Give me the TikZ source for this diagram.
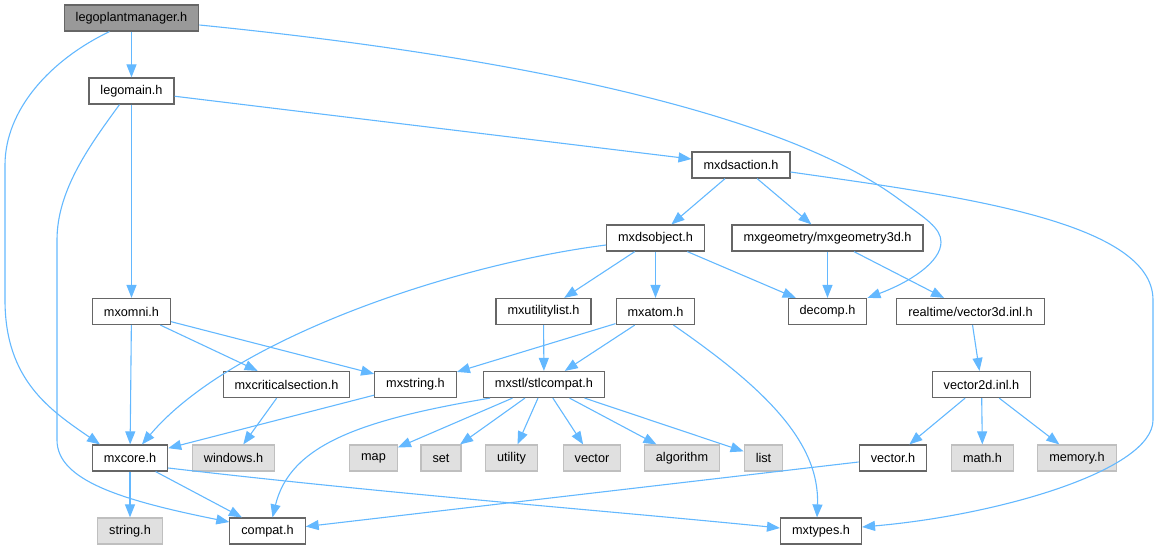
\documentclass[tikz,border=0pt]{standalone}
\usepackage{fontspec}
\setmainfont{Liberation Sans}
\usepackage{tikz}
\usetikzlibrary{arrows.meta}

\definecolor{edgeblue}{HTML}{63B8FF}
\definecolor{boxline}{HTML}{666666}
\definecolor{rootfill}{HTML}{999999}
\definecolor{sysfill}{HTML}{E0E0E0}
\definecolor{sysline}{HTML}{BFBFBF}
\newcommand{\hdrfont}{\fontsize{12.7}{15}\selectfont}

\begin{document}
\begin{tikzpicture}[x=1pt,y=-1pt,
    hdr/.style={draw=boxline,fill=white,line width=1.2pt,minimum height=26pt,
        inner xsep=11.5pt,inner ysep=0pt,font=\hdrfont},
    rooth/.style={hdr,fill=rootfill},
    sysh/.style={hdr,draw=sysline,fill=sysfill},
    edge/.style={draw=edgeblue,line width=1.1pt,-{Triangle[length=13pt,width=10pt]}}]
    \useasboundingbox (0,0) rectangle (1161,549);

    % rows of headers
    \node[rooth] (lpm) at (131.5,18) {legoplantmanager.h};
    \node[hdr] (legomain) at (131.5,91) {legomain.h};
    \node[hdr] (mxdsaction) at (741,165) {mxdsaction.h};
    \node[hdr] (mxdsobject) at (655.5,238) {mxdsobject.h};
    \node[hdr] (mxgeometry3d) at (827.5,238) {mxgeometry/mxgeometry3d.h};
    \node[hdr] (mxomni) at (131.5,311.5) {mxomni.h};
    \node[hdr] (mxutilitylist) at (543.5,311.5) {mxutilitylist.h};
    \node[hdr] (mxatom) at (655.5,311.5) {mxatom.h};
    \node[hdr] (decomp) at (827.5,311.5) {decomp.h};
    \node[hdr] (vector3d) at (970.5,311.5) {realtime/vector3d.inl.h};
    \node[hdr] (mxcriticalsection) at (286.5,384.5) {mxcriticalsection.h};
    \node[hdr] (mxstring) at (415.5,384.5) {mxstring.h};
    \node[hdr] (stlcompat) at (544,384.5) {mxstl/stlcompat.h};
    \node[hdr] (vector2d) at (981.5,384.5) {vector2d.inl.h};
    \node[hdr] (mxcore) at (130,458) {mxcore.h};
    \node[sysh] (windows) at (233.5,458) {windows.h};
    \node[sysh] (map) at (373.5,458) {map};
    \node[sysh] (set) at (441,458) {set};
    \node[sysh] (utility) at (511.5,458) {utility};
    \node[sysh] (vector) at (592,458) {vector};
    \node[sysh] (algorithm) at (682,458) {algorithm};
    \node[sysh] (list) at (763.5,458) {list};
    \node[hdr] (vectorh) at (893,458) {vector.h};
    \node[sysh] (mathh) at (982.5,458) {math.h};
    \node[sysh] (memory) at (1077,458) {memory.h};
    \node[sysh] (stringh) at (130,531) {string.h};
    \node[hdr] (compat) at (267.5,531) {compat.h};
    \node[hdr] (mxtypes) at (821,531) {mxtypes.h};

    % straight includes
    \draw[edge] (lpm) -- (legomain);
    \draw[edge] (legomain) -- (mxdsaction);
    \draw[edge] (legomain) -- (mxomni);
    \draw[edge] (mxdsaction) -- (mxdsobject);
    \draw[edge] (mxdsaction) -- (mxgeometry3d);
    \draw[edge] (mxdsobject) -- (mxutilitylist);
    \draw[edge] (mxdsobject) -- (mxatom);
    \draw[edge] (mxdsobject) -- (decomp);
    \draw[edge] (mxgeometry3d) -- (decomp);
    \draw[edge] (mxgeometry3d) -- (vector3d);
    \draw[edge] (vector3d) -- (vector2d);
    \draw[edge] (mxomni) -- (mxcore);
    \draw[edge] (mxomni) -- (mxcriticalsection);
    \draw[edge] (mxomni) -- (mxstring);
    \draw[edge] (mxatom) -- (mxstring);
    \draw[edge] (mxatom) -- (stlcompat);
    \draw[edge] (mxutilitylist) -- (stlcompat);
    \draw[edge] (mxcriticalsection) -- (windows);
    \draw[edge] (mxstring) -- (mxcore);
    \draw[edge] (stlcompat) -- (map);
    \draw[edge] (stlcompat) -- (set);
    \draw[edge] (stlcompat) -- (utility);
    \draw[edge] (stlcompat) -- (vector);
    \draw[edge] (stlcompat) -- (algorithm);
    \draw[edge] (stlcompat) -- (list);
    \draw[edge] (vector2d) -- (vectorh);
    \draw[edge] (vector2d) -- (mathh);
    \draw[edge] (vector2d) -- (memory);
    \draw[edge] (mxcore) -- (stringh);
    \draw[edge] (mxcore) -- (compat);
    \draw[edge] (vectorh) -- (compat);

    % bent includes
    \draw[edge] ([xshift=-22pt]lpm.south) .. controls (50,60) and (5,110) .. (5,165)
        -- (5,300) .. controls (5,380) and (50,410) .. ([xshift=-30pt]mxcore.north);
    \draw[edge] ([yshift=-7pt]lpm.east) .. controls (500,55) and (780,110) .. (900,200)
        .. controls (925,218) and (941,228) .. (941,242)
        .. controls (941,262) and (910,282) .. (decomp.north east);
    \draw[edge] ([xshift=-12pt]legomain.south) .. controls (90,145) and (57,190) .. (57,240)
        -- (57,440) .. controls (57,480) and (120,500) .. ([yshift=9pt]compat.west);
    \draw[edge] ([yshift=-7pt]mxdsaction.east) .. controls (950,195) and (1153,220) .. (1153,300)
        -- (1153,420) .. controls (1153,470) and (1000,515) .. ([yshift=4pt]mxtypes.east);
    \draw[edge] ([yshift=-7pt]mxdsobject.west) .. controls (450,265) and (230,340) .. ([xshift=12pt]mxcore.north);
    \draw[edge] ([xshift=18pt]mxatom.south) .. controls (760,385) and (820,440) .. ([xshift=-4pt]mxtypes.north);
    \draw[edge] ([xshift=-54pt]stlcompat.south) .. controls (360,420) and (290,445) .. ([xshift=5pt]compat.north);
    \draw[edge] ([yshift=-10pt]mxcore.east) .. controls (400,495) and (600,510) .. ([yshift=3pt]mxtypes.west);
\end{tikzpicture}
\end{document}
